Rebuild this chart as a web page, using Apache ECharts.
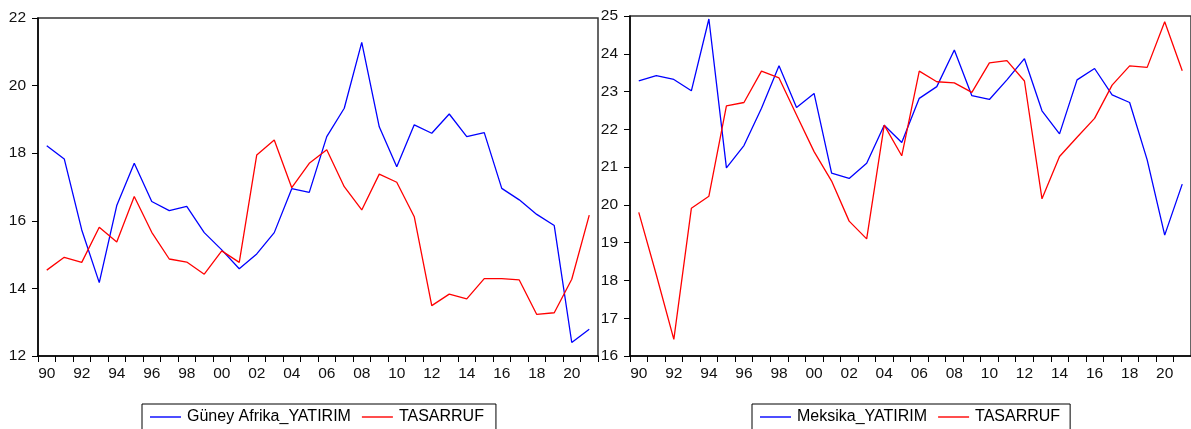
<!DOCTYPE html>
<html>
<head>
<meta charset="utf-8">
<script src="https://cdn.jsdelivr.net/npm/echarts@6/dist/echarts.min.js"></script>
<style>
html,body{margin:0;padding:0;background:#fff;}
#c{width:1191px;height:429px;}
</style>
</head>
<body>
<div id="c"></div>
<script>
var years = ['90','91','92','93','94','95','96','97','98','99','00','01','02','03','04','05','06','07','08','09','10','11','12','13','14','15','16','17','18','19','20','21'];

var saYatirim = [18.22,17.83,15.73,14.17,16.45,17.70,16.57,16.30,16.43,15.65,15.14,14.58,15.02,15.65,16.95,16.84,18.49,19.33,21.28,18.78,17.60,18.84,18.59,19.16,18.49,18.61,16.96,16.62,16.19,15.86,12.40,12.79];
var saTasarruf = [14.54,14.92,14.77,15.81,15.37,16.72,15.66,14.87,14.78,14.42,15.11,14.77,17.95,18.39,16.98,17.70,18.10,17.01,16.32,17.38,17.14,16.12,13.49,13.83,13.69,14.29,14.29,14.25,13.23,13.28,14.27,16.17];

var mxYatirim = [23.28,23.42,23.32,23.02,24.92,20.98,21.57,22.56,23.68,22.58,22.95,20.84,20.70,21.10,22.11,21.65,22.82,23.13,24.10,22.89,22.79,23.31,23.87,22.49,21.88,23.31,23.61,22.91,22.71,21.19,19.20,20.55];
var mxTasarruf = [19.80,18.15,16.44,19.91,20.23,22.62,22.71,23.54,23.36,22.38,21.41,20.63,19.57,19.10,22.11,21.30,23.54,23.26,23.23,22.98,23.76,23.82,23.28,20.16,21.28,21.79,22.29,23.17,23.68,23.64,24.85,23.55];

var leftName1 = 'Güney Afrika_YATIRIM';
var rightName1 = 'Meksika_YATIRIM';
var name2 = 'TASARRUF';

var FONT = '"Liberation Sans", Arial, sans-serif';

function xAx(gi){
  return {
    type:'category', gridIndex:gi, data:years, boundaryGap:true,
    axisLine:{show:true, lineStyle:{color:'#000', width:1.5}},
    axisTick:{show:true, interval:0, length:6, inside:false, lineStyle:{color:'#000', width:1}},
    axisLabel:{interval:1, margin:10, color:'#111', fontSize:15.5, fontFamily:FONT},
    splitLine:{show:false}
  };
}
function yAx(gi, mn, mx, iv){
  return {
    type:'value', gridIndex:gi, min:mn, max:mx, interval:iv,
    axisLine:{show:true, lineStyle:{color:'#000', width:1.5}},
    axisTick:{show:true, length:6, lineStyle:{color:'#000', width:1}},
    axisLabel:{margin:12, color:'#111', fontSize:15.5, fontFamily:FONT},
    splitLine:{show:false}
  };
}
function ser(name, data, xi, color){
  return {
    type:'line', name:name, data:data, xAxisIndex:xi, yAxisIndex:xi,
    symbol:'none', smooth:false, animation:false,
    lineStyle:{color:color, width:1.3}, itemStyle:{color:color}
  };
}
function leg(names, left, padR){
  return {
    data:names, left:left, top:404, orient:'horizontal',
    icon:'rect', itemWidth:31, itemHeight:1.4, itemGap:11,
    padding:[5,padR,30,8],
    borderColor:'#000', borderWidth:1, backgroundColor:'#fff',
    textStyle:{fontSize:16, color:'#000', fontFamily:FONT, padding:[0,0,0,1]}
  };
}

var chart = echarts.init(document.getElementById('c'), null, {renderer:'canvas'});
chart.setOption({
  animation:false,
  backgroundColor:'#fff',
  grid:[
    {left:38, top:18, width:560, height:338, show:true, borderColor:'#333', borderWidth:1.5, backgroundColor:'transparent'},
    {left:630, top:16, width:564, height:340, show:true, borderColor:'#333', borderWidth:1.5, backgroundColor:'transparent'}
  ],
  xAxis:[xAx(0), xAx(1)],
  yAxis:[yAx(0,12,22,2), yAx(1,16,25,1)],
  legend:[
    leg([leftName1, name2], 142, 12),
    leg([rightName1, name2], 752, 10)
  ],
  series:[
    ser(leftName1, saYatirim, 0, '#0000ff'),
    ser(name2, saTasarruf, 0, '#ff0000'),
    ser(rightName1, mxYatirim, 1, '#0000ff'),
    ser(name2, mxTasarruf, 1, '#ff0000')
  ]
});
</script>
</body>
</html>
